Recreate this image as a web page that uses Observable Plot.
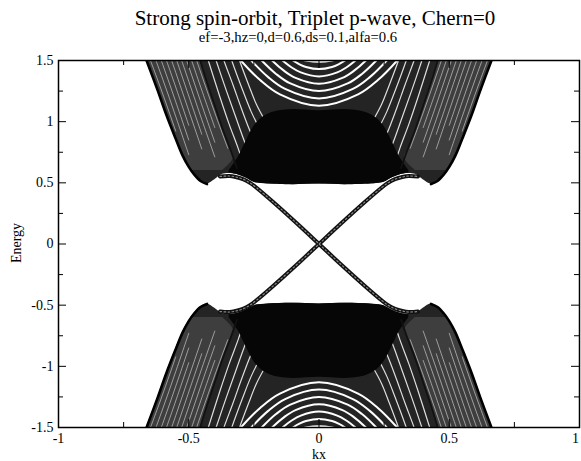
<!DOCTYPE html>
<html><head><meta charset="utf-8">
<script src="https://cdn.jsdelivr.net/npm/d3@7"></script>
<script src="https://cdn.jsdelivr.net/npm/@observablehq/plot@0.6"></script>
<style>
body{margin:0;background:#fff;}
#chart{width:581px;height:461px;}
svg text{font-family:"Liberation Serif","Times New Roman",serif;}
</style></head><body><div id="chart"></div>
<script>
const titleText = "Strong spin-orbit, Triplet p-wave, Chern=0";
const subtitleText = "ef=-3,hz=0,d=0.6,ds=0.1,alfa=0.6";
const xTicks = [-1, -0.5, 0, 0.5, 1];
const xMinorTicks = [-0.75, -0.25, 0.25, 0.75];
const yTicks = [-1.5, -1, -0.5, 0, 0.5, 1, 1.5];
const yMinorTicks = [-1.25, -0.75, -0.25, 0.25, 0.75, 1.25];

// Upper (E>0) band continuum, right half (kx>=0). The spectrum is symmetric
// under kx -> -kx and E -> -E, so the other quadrants are mirror images.
const bandBottom = [[0,0.49],[0.1,0.485],[0.2,0.49],[0.24,0.5],[0.27,0.53],[0.3,0.56],[0.33,0.575],[0.37,0.57],[0.4,0.525],[0.43,0.49]];
const outerEdge = [[0.43,0.49],[0.455,0.515],[0.48,0.57],[0.5,0.63],[0.523,0.72],[0.55,0.86],[0.585,1.05],[0.62,1.26],[0.662,1.5]];
const innerEdge = [[0.315,0.62],[0.338,0.76],[0.37,0.94],[0.4,1.13],[0.43,1.32],[0.456,1.5]];
// [E, kx of inner edge, kx of outer edge]
const wing = [[0.6,0.37,0.488],[0.7,0.328,0.518],[0.76,0.338,0.531],[0.94,0.37,0.565],[1.13,0.4,0.598],[1.32,0.43,0.63],[1.5,0.456,0.662]];
// [kx, bottom E, top E] of the dense dome
const dome = [[0,0.49,1.09],[0.1,0.485,1.1],[0.15,0.487,1.09],[0.18,0.49,1.075],[0.22,0.495,1.03],[0.25,0.505,0.96],[0.28,0.54,0.84],[0.31,0.565,0.71],[0.345,0.58,0.6]];

// white gaps between the bundles of bands: arcs centred on kx=0 (right half)
const arcGaps = [
  [[0,1.49],[0.05,1.5],[0.08,1.516]],
  [[0,1.43],[0.05,1.4475],[0.075,1.469],[0.1,1.5],[0.13,1.548]],
  [[0,1.37],[0.07,1.4025],[0.105,1.443],[0.14,1.5],[0.17,1.557]],
  [[0,1.31],[0.09,1.3575],[0.135,1.417],[0.18,1.5],[0.21,1.569]],
  [[0,1.25],[0.11,1.3125],[0.165,1.39],[0.22,1.5],[0.25,1.57]],
  [[0,1.19],[0.13,1.2675],[0.195,1.364],[0.26,1.5],[0.29,1.576]],
  [[0,1.13],[0.15,1.2225],[0.225,1.338],[0.3,1.5],[0.33,1.58]]
];
// gaps rising from the dome towards the inner edge (right half)
const risingGaps = [
  [[0.29,0.65],[0.31,0.78],[0.345,0.98],[0.38,1.2],[0.425,1.5],[0.44,1.6]],
  [[0.27,0.75],[0.29,0.86],[0.32,1.04],[0.355,1.25],[0.395,1.5],[0.41,1.6]],
  [[0.25,0.85],[0.27,0.95],[0.3,1.12],[0.33,1.3],[0.365,1.5],[0.38,1.6]],
  [[0.23,0.95],[0.26,1.08],[0.29,1.24],[0.335,1.5],[0.35,1.6]],
  [[0.21,1.02],[0.24,1.14],[0.27,1.3],[0.305,1.5],[0.32,1.6]]
];
// gaps in the outer wing, parallel to the outer edge (right half)
const wingGaps = [
  [[0.35,0.782],[0.4,1.072],[0.45,1.377],[0.5,1.69]],
  [[0.4,0.952],[0.45,1.257],[0.5,1.57]],
  [[0.4,0.832],[0.45,1.137],[0.5,1.45],[0.55,1.763]],
  [[0.4,0.712],[0.45,1.017],[0.5,1.33],[0.55,1.643]],
  [[0.45,0.897],[0.5,1.21],[0.55,1.523]],
  [[0.45,0.777],[0.5,1.09],[0.55,1.403],[0.6,1.708]],
  [[0.5,0.97],[0.55,1.283],[0.6,1.588]],
  [[0.5,0.85],[0.55,1.163],[0.6,1.468],[0.65,1.758]],
  [[0.5,0.73],[0.55,1.043],[0.6,1.348],[0.65,1.638]],
  [[0.55,0.923],[0.6,1.228],[0.65,1.518]]
];
// the two in-gap edge states crossing at kx=0
const edgeStateA = [[-0.38,0.552],[-0.345,0.556],[-0.32,0.548],[-0.292,0.53],[-0.265,0.5],[-0.24,0.46],[-0.177,0.345],[-0.073,0.145],[0,0],[0.073,-0.145],[0.177,-0.345],[0.24,-0.46],[0.265,-0.5],[0.292,-0.53],[0.32,-0.548],[0.345,-0.556],[0.38,-0.552]];
const edgeStateB = [[-0.38,-0.552],[-0.345,-0.556],[-0.32,-0.548],[-0.292,-0.53],[-0.265,-0.5],[-0.24,-0.46],[-0.177,-0.345],[-0.073,-0.145],[0,0],[0.073,0.145],[0.177,0.345],[0.24,0.46],[0.265,0.5],[0.292,0.53],[0.32,0.548],[0.345,0.556],[0.38,0.552]];

// ---- build tables by mirroring ----
const yTop = yTicks[yTicks.length - 1];
const halves = [1, -1];
const quads = [[1,1],[-1,1],[1,-1],[-1,-1]];
const mirrorFull = pts => [...pts.slice(1).reverse().map(([k, ...r]) => [-k, ...r]), ...pts];

const envelopeRows = halves.flatMap(sy =>
  mirrorFull([...bandBottom, ...outerEdge.slice(1)]).map(([k, e]) => ({z: sy, x: k, y1: sy * e, y2: sy * yTop})));
const domeRows = halves.flatMap(sy =>
  mirrorFull(dome).map(([k, b, t]) => ({z: sy, x: k, y1: sy * b, y2: sy * t})));
const wingRows = quads.flatMap(([sx, sy], q) => wing.map(([e, a, b]) => ({z: q, y: sy * e, x1: sx * a, x2: sx * b})));
const quadLines = (pts, tag) => quads.flatMap(([sx, sy], q) => pts.map(([k, e]) => ({z: tag + q, x: sx * k, y: sy * e})));
const quadSet = (set, tag) => quads.flatMap(([sx, sy], q) => set.flatMap((pts, i) => pts.map(([k, e]) => ({z: `${tag}${q}_${i}`, x: sx * k, y: sy * e}))));
const arcSet = (set, tag) => halves.flatMap(sy => set.flatMap((pts, i) => mirrorFull(pts).map(([k, e]) => ({z: `${tag}${sy}_${i}`, x: k, y: sy * e}))));

const arcRows = arcSet(arcGaps, "a");
const risingRows = quadSet(risingGaps, "r");
const wingGapRows = quadSet(wingGaps, "w");
const innerRows = quadLines(innerEdge, "i");
const outerRows = quadLines(outerEdge, "o");
const edgeRows = [
  ...edgeStateA.map(([k, e]) => ({z: "A", x: k, y: e})),
  ...edgeStateB.map(([k, e]) => ({z: "B", x: k, y: e}))
];

const fmt = d => String(d);
const frameH = 367, frameW = 521, major = 8, minor = 5;
const xLast = xTicks[xTicks.length - 1];
const plot = Plot.plot({
  width: 581, height: 461,
  marginLeft: 58, marginRight: 2, marginTop: 60, marginBottom: 34,
  x: {domain: [xTicks[0], xLast]},
  y: {domain: [yTicks[0], yTop]},
  style: {fontFamily: "Liberation Serif, Times New Roman, serif", fontSize: "14px", background: "white", overflow: "visible"},
  marks: [
    Plot.areaY(envelopeRows, {x: "x", y1: "y1", y2: "y2", z: "z", fill: "#242424", curve: "catmull-rom", clip: true}),
    Plot.areaX(wingRows, {y: "y", x1: "x1", x2: "x2", z: "z", fill: "#3e3e3e", curve: "catmull-rom", clip: true}),
    Plot.line(risingRows, {x: "x", y: "y", z: "z", stroke: "white", strokeOpacity: 0.85, strokeWidth: 1.2, curve: "catmull-rom", clip: true}),
    Plot.line(arcRows, {x: "x", y: "y", z: "z", stroke: "white", strokeWidth: 2, curve: "catmull-rom", clip: true}),
    Plot.line(wingGapRows, {x: "x", y: "y", z: "z", stroke: "white", strokeOpacity: 0.5, strokeWidth: 1, curve: "catmull-rom", clip: true}),
    Plot.areaY(domeRows, {x: "x", y1: "y1", y2: "y2", z: "z", fill: "#060606", curve: "catmull-rom", clip: true}),
    Plot.line(innerRows, {x: "x", y: "y", z: "z", stroke: "#111", strokeWidth: 1.8, curve: "catmull-rom", clip: true}),
    Plot.line(outerRows, {x: "x", y: "y", z: "z", stroke: "#000", strokeWidth: 2.6, curve: "catmull-rom", clip: true}),
    Plot.line(edgeRows, {x: "x", y: "y", z: "z", stroke: "#111", strokeWidth: 4, curve: "catmull-rom"}),
    Plot.line(edgeRows, {x: "x", y: "y", z: "z", stroke: "white", strokeOpacity: 0.5, strokeWidth: 1.2, strokeDasharray: "1.6,2.4", curve: "catmull-rom"}),
    Plot.frame({stroke: "black", strokeWidth: 1.5}),
    // inward ticks on all four sides
    Plot.tickX(xTicks, {x: d => d, insetTop: frameH - major, stroke: "black"}),
    Plot.tickX(xTicks, {x: d => d, insetBottom: frameH - major, stroke: "black"}),
    Plot.tickX(xMinorTicks, {x: d => d, insetTop: frameH - minor, stroke: "black"}),
    Plot.tickX(xMinorTicks, {x: d => d, insetBottom: frameH - minor, stroke: "black"}),
    Plot.tickY(yTicks, {y: d => d, insetRight: frameW - major, stroke: "black"}),
    Plot.tickY(yTicks, {y: d => d, insetLeft: frameW - major, stroke: "black"}),
    Plot.tickY(yMinorTicks, {y: d => d, insetRight: frameW - minor, stroke: "black"}),
    Plot.tickY(yMinorTicks, {y: d => d, insetLeft: frameW - minor, stroke: "black"}),
    // tick labels
    Plot.axisX(xTicks.filter(d => d !== xLast), {anchor: "bottom", tickSize: 0, tickPadding: 6, tickFormat: fmt, label: null, fontSize: 14}),
    Plot.axisX([xLast], {anchor: "bottom", tickSize: 0, tickPadding: 6, tickFormat: fmt, label: null, fontSize: 14, dx: -4}),
    Plot.axisY(yTicks, {anchor: "left", tickSize: 0, tickPadding: 5, tickFormat: fmt, label: null, fontSize: 14})
  ]
});

const svg = d3.select(plot);
const addText = (x, y, size, txt, transform) => {
  const t = svg.append("text").attr("text-anchor", "middle").attr("fill", "black")
    .style("font-size", size + "px").text(txt);
  if (transform) t.attr("transform", transform); else t.attr("x", x).attr("y", y);
  return t;
};
addText(315, 25, 21, titleText);
addText(298, 42, 14.7, subtitleText);
addText(319, 459, 14, "kx");
addText(0, 0, 14, "Energy", "translate(21,243) rotate(-90)");
document.getElementById("chart").appendChild(plot);
</script></body></html>
